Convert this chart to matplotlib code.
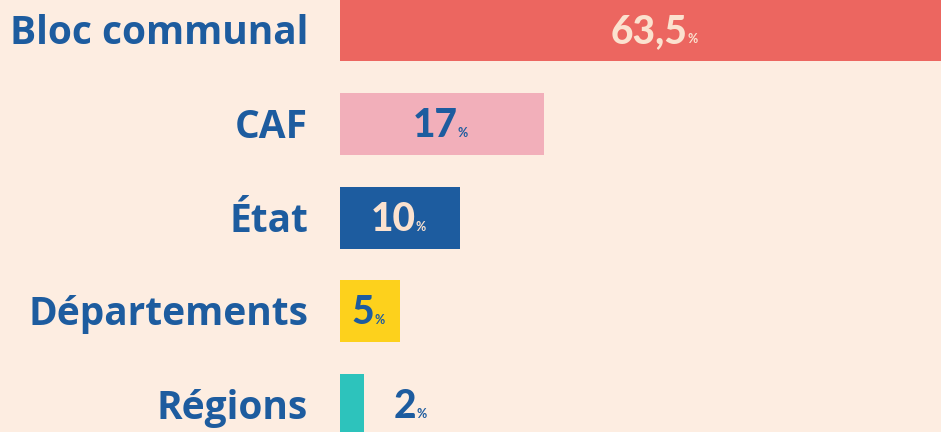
import matplotlib
matplotlib.use("Agg")
import matplotlib.pyplot as plt

# parts du financement
categories = ["Bloc communal", "CAF", "État", "Départements", "Régions"]
values = [63.5, 17, 10, 5, 2]
value_labels = ["63,5", "17", "10", "5", "2"]
bar_colors = ["#ec6660", "#f2afba", "#1d5c9f", "#fdd11c", "#2dc3bc"]
text_colors = ["#fbe2cf", "#1d5c9f", "#fbe2cf", "#1d5c9f", "#1d5c9f"]
inside = [True, True, True, True, False]

bg = "#fdede1"
blue = "#1d5c9f"

fig = plt.figure(figsize=(9.41, 4.32), dpi=100, facecolor=bg)
ax = fig.add_axes([0, 0, 1, 1])
ax.set_facecolor(bg)

px = 12.0  # pixels par point de %
ax.set_xlim(-340 / px, (941 - 340) / px)
spacing = 93.75
ax.set_ylim((432 - 30) / spacing, -30 / spacing)

ypos = list(range(len(categories)))
ax.barh(ypos, values, height=62 / spacing, color=bar_colors, left=0)

for i, cat in enumerate(categories):
    ax.text(-32 / px, i + 0.15, cat, ha="right", va="baseline",
            fontsize=28, fontweight="bold", family="Open Sans", color=blue)

xmax = ax.get_xlim()[1]
for i, (v, lab) in enumerate(zip(values, value_labels)):
    if inside[i]:
        x = min(v, xmax) / 2
        if v > xmax:
            x += 16 / px
        ha = "center"
        dx = -5
    else:
        x = v + 30 / px
        ha = "left"
        dx = 0
    num = ax.annotate(lab, xy=(x, i + 0.14), xytext=(dx, 0), textcoords="offset points",
                      ha=ha, va="baseline", fontsize=28, fontweight="black",
                      family="Lato", color=text_colors[i])
    ax.annotate("%", xy=(1, i + 0.14), xycoords=(num, "data"), xytext=(0, 0),
                textcoords="offset points", ha="left", va="baseline",
                fontsize=9, fontweight="bold", family="Lato", color=text_colors[i])

ax.axis("off")
fig.savefig("out.png", dpi=100, facecolor=bg)
